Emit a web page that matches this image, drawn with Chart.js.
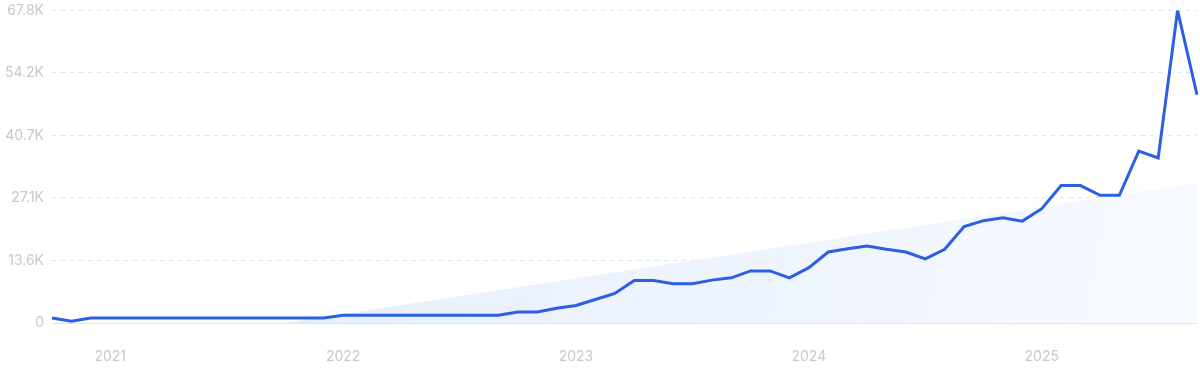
<!DOCTYPE html>
<html>
<head>
<meta charset="utf-8">
<script src="https://cdn.jsdelivr.net/npm/chart.js@4.4.0/dist/chart.umd.min.js"></script>
<style>
  html, body { margin: 0; padding: 0; background: #fff; overflow: hidden; }
  #wrap { width: 1200px; height: 378px; margin-top: -6px; }
</style>
</head>
<body>
<div id="wrap"><canvas id="chart"></canvas></div>
<script>
// monthly points, Oct 2020 - Sep 2025
var months = [
  '2020-10','2020-11','2020-12',
  '2021-01','2021-02','2021-03','2021-04','2021-05','2021-06','2021-07','2021-08','2021-09','2021-10','2021-11','2021-12',
  '2022-01','2022-02','2022-03','2022-04','2022-05','2022-06','2022-07','2022-08','2022-09','2022-10','2022-11','2022-12',
  '2023-01','2023-02','2023-03','2023-04','2023-05','2023-06','2023-07','2023-08','2023-09','2023-10','2023-11','2023-12',
  '2024-01','2024-02','2024-03','2024-04','2024-05','2024-06','2024-07','2024-08','2024-09','2024-10','2024-11','2024-12',
  '2025-01','2025-02','2025-03','2025-04','2025-05','2025-06','2025-07','2025-08','2025-09'
];

var volume = [
  1100, 400, 1100,
  1100, 1100, 1100, 1100, 1100, 1100, 1100, 1100, 1100, 1100, 1100, 1100,
  1700, 1700, 1700, 1700, 1700, 1700, 1700, 1700, 1700, 2400, 2400, 3200,
  3800, 5100, 6400, 9200, 9200, 8500, 8500, 9300, 9800, 11300, 11300, 9800,
  12000, 15400, 16100, 16700, 16000, 15400, 13900, 16000, 20900, 22200, 22800, 22100,
  24800, 29800, 29800, 27700, 27700, 37300, 35800, 67800, 49500
];

// trend band: only its two ends, the line between them is spanned
var trend = [
  null, null, null,
  null, null, null, null, null, null, null, null, null, 0, null, null,
  null, null, null, null, null, null, null, null, null, null, null, null,
  null, null, null, null, null, null, null, null, null, null, null, null,
  null, null, null, null, null, null, null, null, null, null, null, null,
  null, null, null, null, null, null, null, null, 30300
];

var yTicks = [0, 13560, 27120, 40680, 54240, 67800];

function trendFill(context) {
  var chart = context.chart;
  var area = chart.chartArea;
  if (!area) return 'rgba(230,239,252,0.8)';
  var g = chart.ctx.createLinearGradient(area.left + 250, area.top + 150, area.right, area.bottom);
  g.addColorStop(0, 'rgba(228,238,252,0.95)');
  g.addColorStop(1, 'rgba(246,249,255,0.9)');
  return g;
}

new Chart(document.getElementById('chart'), {
  type: 'line',
  data: {
    labels: months,
    datasets: [
      {
        data: volume,
        borderColor: '#2d5fe3',
        borderWidth: 3,
        pointRadius: 0,
        tension: 0,
        fill: false,
        order: 0
      },
      {
        data: trend,
        spanGaps: true,
        borderWidth: 0,
        borderColor: 'rgba(0,0,0,0)',
        pointRadius: 0,
        fill: 'origin',
        backgroundColor: trendFill,
        order: 1
      }
    ]
  },
  options: {
    responsive: true,
    maintainAspectRatio: false,
    animation: false,
    layout: { padding: { top: 3, right: 3, left: 0, bottom: 0 } },
    plugins: {
      legend: { display: false },
      tooltip: { enabled: false }
    },
    scales: {
      x: {
        type: 'category',
        offset: false,
        grid: { display: false, drawTicks: false },
        border: { display: true, color: '#dde6f3', width: 1 },
        afterFit: function (scale) { scale.height = 49; },
        ticks: {
          autoSkip: false,
          maxRotation: 0,
          padding: 25,
          color: '#c6c8d0',
          font: { family: 'Inter', size: 14 },
          callback: function (value) {
            var lab = this.getLabelForValue(value);
            if (lab.slice(5) === '01') return lab.slice(0, 4);
            return null;
          }
        }
      },
      y: {
        min: 0,
        max: 67800,
        afterFit: function (scale) { scale.width = 52; },
        afterBuildTicks: function (scale) {
          scale.ticks = yTicks.map(function (v) { return { value: v }; });
        },
        grid: { color: '#d6e8f8', lineWidth: 1, drawTicks: false },
        border: { display: false, dash: [4, 5] },
        ticks: {
          padding: 8,
          color: '#c6c8d0',
          font: { family: 'Inter', size: 14 },
          callback: function (v) {
            if (v === 0) return '0';
            return (v / 1000).toFixed(1) + 'K';
          }
        }
      }
    }
  }
});
</script>
</body>
</html>
